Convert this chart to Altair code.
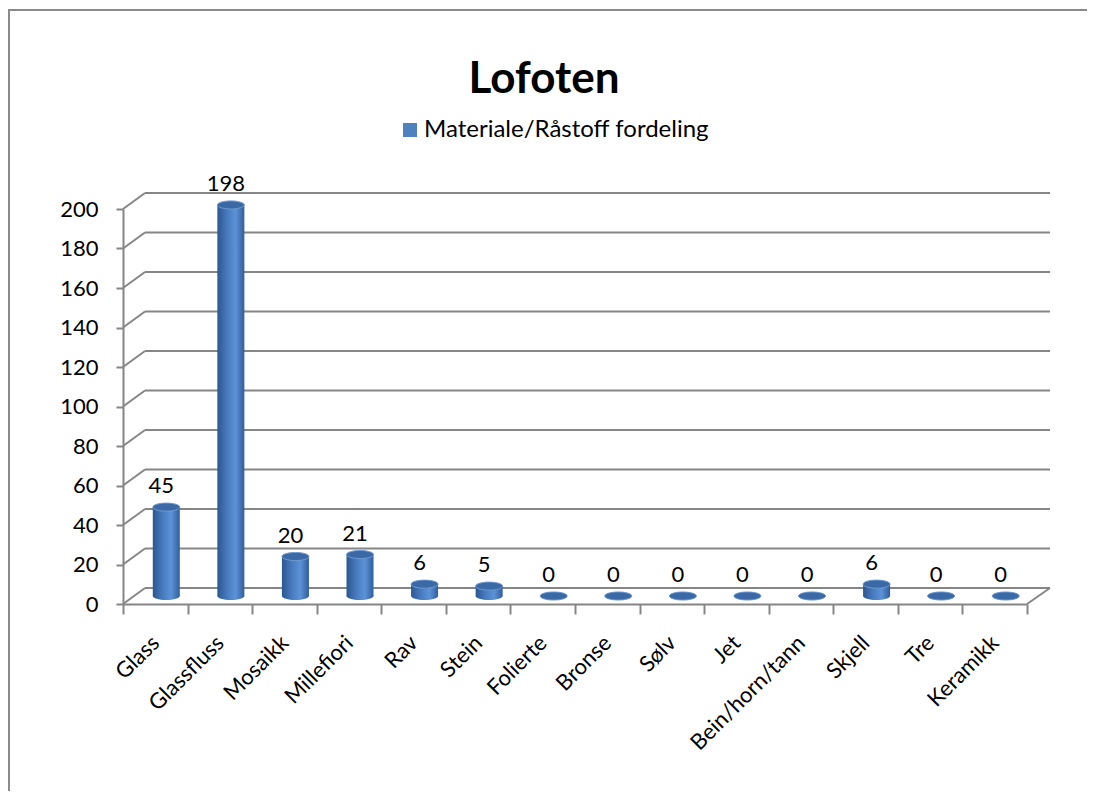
import altair as alt
import pandas as pd

# ---- data ----
categories = ["Glass", "Glassfluss", "Mosaikk", "Millefiori", "Rav", "Stein", "Folierte",
              "Bronse", "Sølv", "Jet", "Bein/horn/tann", "Skjell", "Tre", "Keramikk"]
values = [45, 198, 20, 21, 6, 5, 0, 0, 0, 0, 0, 6, 0, 0]
y_ticks = [0, 20, 40, 60, 80, 100, 120, 140, 160, 180, 200]
chart_title = "Lofoten"
series_name = "Materiale/Råstoff fordeling"

df = pd.DataFrame({"kategori": categories, "verdi": values})
grid_df = pd.DataFrame({"verdi": y_ticks})
floor_df = pd.DataFrame({"verdi": [0]})

W, H = 904, 395
DX, DY = 22, -16          # depth offset of the 3D back wall
BX, BY = 11, -8           # cylinders sit at mid depth
GRID = "#868686"
FONT = "Lato"

yscale = alt.Scale(domain=[0, 200], nice=False, zero=True)
yaxis = alt.Axis(title=None, values=y_ticks, labelFont=FONT, labelFontSize=22,
                 labelColor="#000000", labelPadding=18, tickSize=7, tickWidth=2,
                 labelOverlap=False, labelFlush=False,
                 tickColor=GRID, domainColor=GRID, domainWidth=2, grid=False)
xs = alt.X("kategori:N", sort=categories,
           scale=alt.Scale(paddingInner=0, paddingOuter=0),
           axis=alt.Axis(title=None, labelAngle=-45, labelAlign="right", labelBaseline="middle",
                         labelFont=FONT, labelFontSize=22, labelColor="#000000",
                         labelOverlap=False,
                         labelPadding=25, tickBand="extent", tickSize=10, tickWidth=2,
                         tickColor=GRID, domainColor=GRID, domainWidth=2, grid=False))
ys = alt.Y("verdi:Q", scale=yscale, axis=yaxis)

grad = alt.Gradient(gradient="linear", x1=0, x2=1, y1=0, y2=0,
                    stops=[alt.GradientStop(offset=0, color="#2b5791"),
                           alt.GradientStop(offset=0.4, color="#4a7ec2"),
                           alt.GradientStop(offset=0.68, color="#5d92d8"),
                           alt.GradientStop(offset=1, color="#2f5e9b")])
ellipse = "M -1 0 A 1 0.3 0 1 0 1 0 A 1 0.3 0 1 0 -1 0 Z"

border = alt.Chart(pd.DataFrame({"b": [1]})).mark_rect(
    fillOpacity=0, stroke="#8a8a8a", strokeWidth=2).encode(
    x=alt.value(-114), x2=alt.value(1100), y=alt.value(-199), y2=alt.value(800))

back_grid = alt.Chart(grid_df).mark_rule(color=GRID, strokeWidth=2, yOffset=DY).encode(
    y=ys, x=alt.value(DX), x2=alt.value(W + DX + 1))

diag = alt.Chart(grid_df).mark_rule(color=GRID, strokeWidth=2, y2Offset=DY).encode(
    y=ys, y2="verdi:Q", x=alt.value(0), x2=alt.value(DX))

floor_right = alt.Chart(floor_df).mark_rule(color=GRID, strokeWidth=2, y2Offset=DY).encode(
    y=ys, y2="verdi:Q", x=alt.value(W), x2=alt.value(W + DX + 1))

base = alt.Chart(df)

bottom_ell = base.mark_point(shape=ellipse, size=729, filled=True, opacity=1,
                             color=grad, xOffset=BX, yOffset=BY).encode(
    x=xs, y=alt.datum(0, scale=yscale, axis=yaxis))

bars = base.mark_bar(size=27, color=grad, xOffset=BX, yOffset=BY, y2Offset=BY).encode(
    x=xs, y=ys, y2=alt.datum(0))

top_ell = base.mark_point(shape=ellipse, size=729, filled=True, opacity=1,
                          fill="#3b69a6", stroke="#6f9ad2", strokeWidth=1,
                          xOffset=BX, yOffset=BY).encode(x=xs, y=ys)

labels = base.mark_text(font=FONT, fontSize=22, color="#000000", baseline="alphabetic",
                        align="center", xOffset=6, yOffset=-22).encode(
    x=xs, y=ys, text="verdi:Q")

title = alt.Chart(pd.DataFrame({"t": [chart_title]})).mark_text(
    font=FONT, fontSize=44, fontWeight="bold", color="#000000", align="center",
    baseline="alphabetic").encode(x=alt.value(421), y=alt.value(-116), text="t:N")

legend_sym = alt.Chart(pd.DataFrame({"t": [series_name]})).mark_square(
    size=196, color="#4f81bd", opacity=1).encode(x=alt.value(287), y=alt.value(-79))
legend_txt = alt.Chart(pd.DataFrame({"t": [series_name]})).mark_text(
    font=FONT, fontSize=24, color="#000000", align="left", baseline="middle").encode(
    x=alt.value(301), y=alt.value(-79), text="t:N")

chart = alt.layer(border, back_grid, diag, floor_right, bottom_ell, bars, top_ell, labels,
                  title, legend_sym, legend_txt).properties(
    width=W, height=H,
    background="#ffffff",
    autosize=alt.AutoSizeParams(type="none"),
    padding={"left": 115, "top": 201, "right": 60, "bottom": 187},
).configure_view(stroke=None).configure_axis(labelOverlap=False)

chart.save("out.html", embed_options={"renderer": "svg", "actions": False})
